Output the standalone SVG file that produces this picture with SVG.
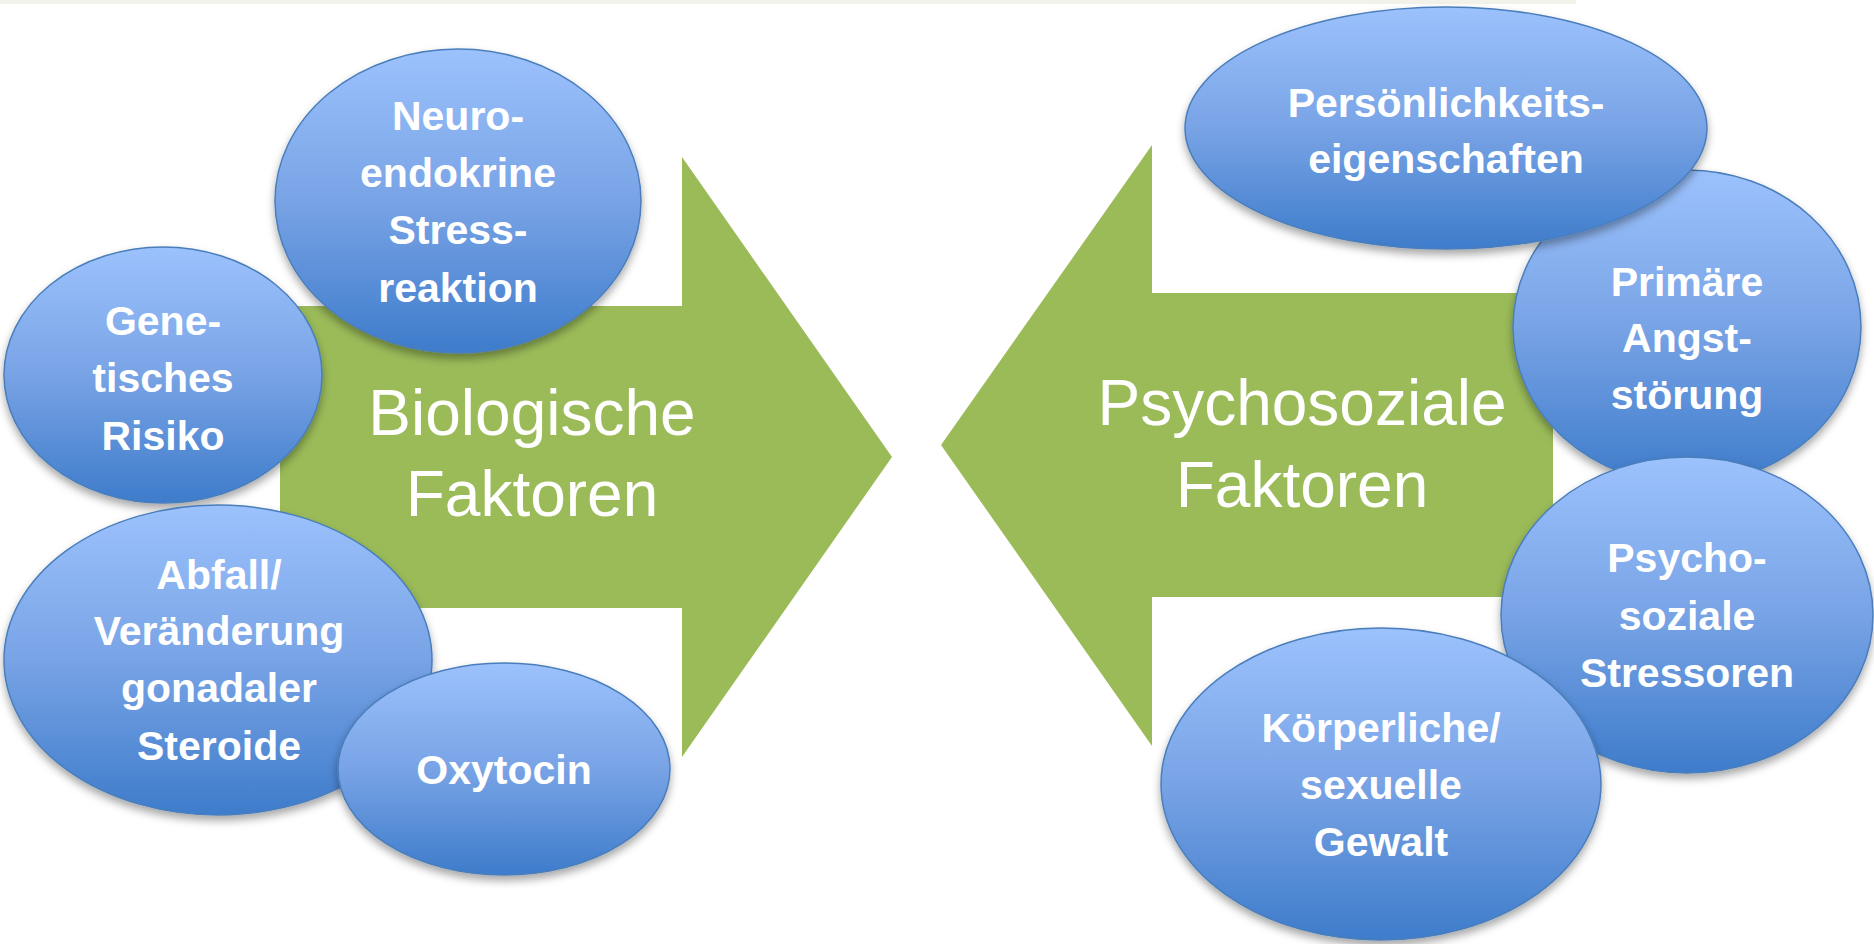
<svg xmlns="http://www.w3.org/2000/svg" width="1874" height="944" viewBox="0 0 1874 944">
  <defs>
    <linearGradient id="blueGrad" x1="0" y1="0" x2="0" y2="1">
      <stop offset="0" stop-color="#9cc2fd"/>
      <stop offset="0.5" stop-color="#78a3e5"/>
      <stop offset="1" stop-color="#3e7ccb"/>
    </linearGradient>
    <filter id="shadow" x="-10%" y="-10%" width="120%" height="125%">
      <feDropShadow dx="0" dy="5" stdDeviation="4" flood-color="#000" flood-opacity="0.35"/>
    </filter>
  </defs>
  <style>
    .bubble { fill: url(#blueGrad); stroke: #4a7ebb; stroke-width: 1.5; filter: url(#shadow); }
    .arrow { fill: #9bbb59; }
    .lbl { font-family: "Liberation Sans", Arial, sans-serif; font-weight: bold; font-size: 41px; fill: #ffffff; text-anchor: middle; }
    .big { font-family: "Liberation Sans", Arial, sans-serif; font-weight: normal; font-size: 64px; fill: #ffffff; text-anchor: middle; }
  </style>
  <rect x="0" y="0" width="1874" height="944" fill="#ffffff"/>
  <rect x="0" y="0" width="1576" height="4" fill="#f3f2ea"/>

  <g id="connectors">
    <g id="arrow-bio">
      <polygon class="arrow" points="280,306 682,306 682,157 892,457 682,757 682,608 280,608"/>
      <text class="big" x="532" y="435">Biologische</text>
      <text class="big" x="532" y="516">Faktoren</text>
    </g>
    <g id="arrow-psycho">
      <polygon class="arrow" points="1553,293 1152,293 1152,145 941,445 1152,746 1152,597 1553,597"/>
      <text class="big" x="1302" y="425">Psychosoziale</text>
      <text class="big" x="1302" y="507">Faktoren</text>
    </g>
  </g>

  <g id="node-genetisch">
    <ellipse class="bubble" cx="163" cy="375" rx="159" ry="128"/>
    <text class="lbl" x="163" y="335">Gene-</text>
    <text class="lbl" x="163" y="392">tisches</text>
    <text class="lbl" x="163" y="450">Risiko</text>
  </g>
  <g id="node-neuro">
    <ellipse class="bubble" cx="458" cy="201" rx="183" ry="152"/>
    <text class="lbl" x="458" y="130">Neuro-</text>
    <text class="lbl" x="458" y="187">endokrine</text>
    <text class="lbl" x="458" y="244">Stress-</text>
    <text class="lbl" x="458" y="302">reaktion</text>
  </g>
  <g id="node-abfall">
    <ellipse class="bubble" cx="218" cy="660" rx="214" ry="155"/>
    <text class="lbl" x="219" y="589">Abfall/</text>
    <text class="lbl" x="219" y="645">Veränderung</text>
    <text class="lbl" x="219" y="702">gonadaler</text>
    <text class="lbl" x="219" y="760">Steroide</text>
  </g>
  <g id="node-oxytocin">
    <ellipse class="bubble" cx="504" cy="769" rx="166" ry="106"/>
    <text class="lbl" x="504" y="784">Oxytocin</text>
  </g>

  <g id="node-primaer">
    <ellipse class="bubble" cx="1687" cy="327" rx="174" ry="157"/>
    <text class="lbl" x="1687" y="296">Primäre</text>
    <text class="lbl" x="1687" y="352">Angst-</text>
    <text class="lbl" x="1687" y="409">störung</text>
  </g>
  <g id="node-stressoren">
    <ellipse class="bubble" cx="1687" cy="615" rx="186" ry="158"/>
    <text class="lbl" x="1687" y="572">Psycho-</text>
    <text class="lbl" x="1687" y="630">soziale</text>
    <text class="lbl" x="1687" y="687">Stressoren</text>
  </g>
  <g id="node-gewalt">
    <ellipse class="bubble" cx="1381" cy="784" rx="220" ry="156"/>
    <text class="lbl" x="1381" y="742">Körperliche/</text>
    <text class="lbl" x="1381" y="799">sexuelle</text>
    <text class="lbl" x="1381" y="856">Gewalt</text>
  </g>
  <g id="node-persoenlichkeit">
    <ellipse class="bubble" cx="1446" cy="128" rx="261" ry="121"/>
    <text class="lbl" x="1446" y="117">Persönlichkeits-</text>
    <text class="lbl" x="1446" y="173">eigenschaften</text>
  </g>
</svg>
